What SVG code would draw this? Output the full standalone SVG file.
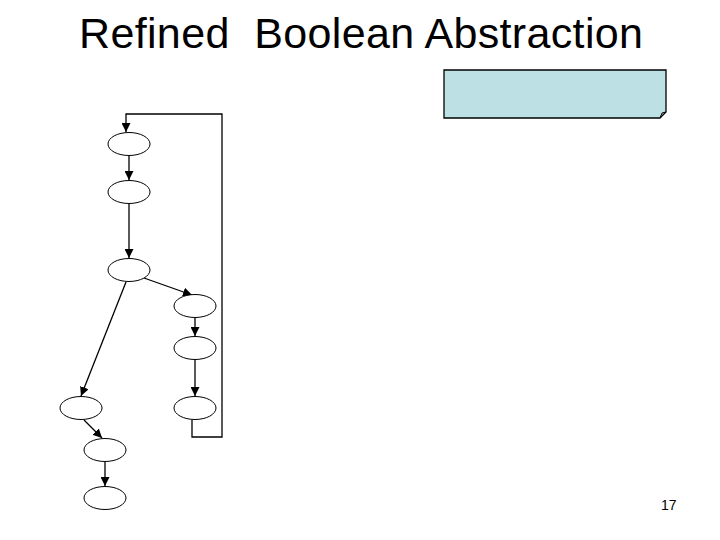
<svg xmlns="http://www.w3.org/2000/svg" width="720" height="540" viewBox="0 0 720 540">
<style>
.n{fill:#fff;stroke:#000;stroke-width:1}
.c{fill:none;stroke:#000;stroke-width:1.3}
.t{font-family:"Liberation Sans",Arial,sans-serif;fill:#000}
</style>
<defs>
<marker id="ah" viewBox="0 0 10 10" refX="10" refY="5" markerWidth="9" markerHeight="9" markerUnits="userSpaceOnUse" orient="auto">
<path d="M0,0 L10,5 L0,10 z" fill="#000"/>
</marker>
</defs>
<rect width="720" height="540" fill="#fff"/>
<text class="t" x="79" y="48" font-size="43" textLength="564" lengthAdjust="spacing" style="white-space:pre">Refined  Boolean Abstraction</text>
<g id="callout">
<path d="M444,70 H666 V112 L660,118 H444 Z" fill="#BCE0E3" stroke="#000" stroke-width="1.3"/>
<path d="M660,118 L662,113 L666,112" fill="none" stroke="#000" stroke-width="1"/>
</g>
<g id="connectors">
<path class="c" d="M192,420 V437 H222 V114 H126 V132" stroke-width="2" marker-end="url(#ah)"/>
<path class="c" d="M129,155 V180" marker-end="url(#ah)"/>
<path class="c" d="M129,204 V258" marker-end="url(#ah)"/>
<path class="c" d="M144,278 L192,295" marker-end="url(#ah)"/>
<path class="c" d="M126,282 L81,396" marker-end="url(#ah)"/>
<path class="c" d="M195,318 V336" marker-end="url(#ah)"/>
<path class="c" d="M195,360 V396" marker-end="url(#ah)"/>
<path class="c" d="M84,420 L102,438" marker-end="url(#ah)"/>
<path class="c" d="M105,462 V486" marker-end="url(#ah)"/>
</g>
<g id="n1"><ellipse class="n" cx="129" cy="144" rx="21" ry="11.5"/></g>
<g id="n2"><ellipse class="n" cx="129" cy="192" rx="21" ry="11.5"/></g>
<g id="n3"><ellipse class="n" cx="129" cy="270" rx="21" ry="11.5"/></g>
<g id="n4"><ellipse class="n" cx="195" cy="306" rx="21" ry="11.5"/></g>
<g id="n5"><ellipse class="n" cx="195" cy="348" rx="21" ry="11.5"/></g>
<g id="n6"><ellipse class="n" cx="195" cy="408" rx="21" ry="11.5"/></g>
<g id="n7"><ellipse class="n" cx="81" cy="408" rx="21" ry="11.5"/></g>
<g id="n8"><ellipse class="n" cx="105" cy="450" rx="21" ry="11.5"/></g>
<g id="n9"><ellipse class="n" cx="105" cy="498" rx="21" ry="11.5"/></g>
<text class="t" x="661" y="510" font-size="14">17</text>
</svg>
